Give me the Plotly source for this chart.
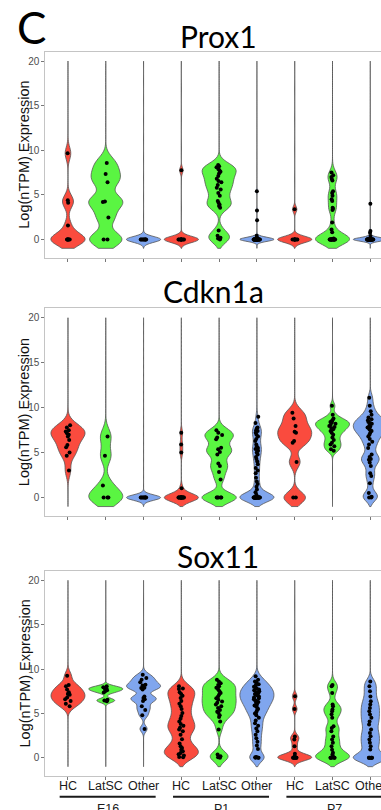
import plotly.graph_objects as go

# ---------------- data ----------------
panel_titles = ["Prox1", "Cdkn1a", "Sox11"]
stages = ["E16", "P1", "P7"]
cell_types = ["HC", "LatSC", "Other"]
positions = [1, 2, 3, 4, 5, 6, 7, 8, 9]
tick_labels = ["HC", "LatSC", "Other", "HC", "LatSC", "Other", "HC", "LatSC", "Other"]
y_ticks = [0, 5, 10, 15, 20]
y_span = [-1, 20]
colors = ["#FA4B3E", "#5AF542", "#80A6EE"]

# Prox1
prox1_e16_hc = [9.65, 4.4, 4.1, 1.55, 0, 0, 0, 0, 0, 0]
prox1_e16_latsc = [8.58, 7.34, 6.4, 4.25, 4.2, 2.47, 0, 0]
prox1_e16_other = [0, 0, 0, 0, 0, 0, 0, 0]
prox1_p1_hc = [7.75, 0, 0, 0, 0, 0, 0, 0, 0, 0, 0]
prox1_p1_latsc = [8.35, 8.2, 8.1, 7.9, 7.75, 7.6, 7.4, 7.1, 6.8, 6.55, 6.4, 6.1, 5.8,
                  5.6, 5.2, 4.9, 4.3, 4.1, 3.9, 3.75, 3.55, 1.0, 0.4, 0.2, 0.1, 0]
prox1_p1_other = [5.4, 3.25, 2.15, 0.4, 0.2, 0, 0, 0, 0, 0, 0, 0, 0, 0, 0, 0, 0, 0, 0,
                  0, 0, 0, 0, 0, 0, 0, 0, 0, 0, 0, 0, 0, 0, 0, 0]
prox1_p7_hc = [3.37, 0, 0, 0, 0, 0, 0, 0, 0]
prox1_p7_latsc = [7.5, 7.2, 7.0, 6.8, 6.6, 5.4, 5.2, 4.9, 4.5, 4.3, 3.55, 3.45, 3.3,
                  1.9, 1.1, 0.8, 0.1, 0, 0, 0, 0, 0, 0, 0, 0, 0, 0, 0, 0, 0, 0, 0]
prox1_p7_other = [4.0, 0.94, 0.75, 0.37, 0, 0, 0, 0, 0, 0, 0, 0, 0, 0, 0, 0, 0, 0, 0,
                  0, 0, 0, 0, 0, 0, 0, 0, 0, 0, 0, 0, 0, 0, 0]
prox1_bw = [0.7, 0.8, 0.32, 0.35, 0.6, 0.22, 0.35, 0.6, 0.2]

# Cdkn1a
cdkn1a_e16_hc = [8.05, 7.8, 7.5, 7.35, 7.15, 7.0, 6.8, 6.4, 5.85, 5.6, 5.0, 4.65, 3.0]
cdkn1a_e16_latsc = [6.8, 4.65, 1.35, 0, 0, 0]
cdkn1a_e16_other = [0, 0, 0, 0, 0, 0, 0, 0]
cdkn1a_p1_hc = [7.2, 5.9, 5.0, 1.05, 0, 0, 0, 0, 0, 0, 0, 0, 0, 0, 0, 0, 0, 0, 0]
cdkn1a_p1_latsc = [7.5, 7.2, 6.96, 6.67, 6.48, 5.55, 5.37, 5.07, 4.8, 3.78, 3.5, 2.85,
                   2.0, 0, 0, 0, 0, 0]
cdkn1a_p1_other = [9.0, 8.3, 7.8, 7.7, 7.5, 7.4, 7.2, 7.0, 6.8, 6.5, 6.3, 5.9, 5.7, 5.5,
                   5.4, 5.2, 5.0, 4.8, 4.5, 4.3, 4.0, 3.7, 3.3, 3.0, 2.7, 2.2, 1.8, 1.5,
                   1.2, 0.9, 0.6, 0.3, 0, 0, 0, 0, 0, 0, 0, 0, 0, 0, 0, 0, 0, 0, 0, 0,
                   0, 0, 0, 0, 0, 0]
cdkn1a_p7_hc = [9.44, 8.8, 7.96, 7.33, 7.2, 6.3, 6.1, 3.96, 0, 0]
cdkn1a_p7_latsc = [10.2, 9.2, 8.8, 8.6, 8.5, 8.4, 8.33, 8.2, 8.07, 7.95, 7.85, 7.7, 7.6,
                   7.4, 7.2, 7.0, 6.67, 6.4, 6.1, 5.9, 5.7, 5.37, 5.2]
cdkn1a_p7_other = [11.1, 10.2, 9.6, 9.2, 8.9, 8.7, 8.6, 8.4, 8.3, 8.2, 8.0, 7.9, 7.8,
                   7.6, 7.5, 7.4, 7.2, 7.0, 6.8, 6.5, 6.2, 5.9, 5.5, 4.8, 4.5, 4.3,
                   4.2, 3.9, 3.5, 2.7, 2.4, 1.6, 0.5, 0.1, 0, 0]
cdkn1a_bw = [0.7, 0.85, 0.3, 0.45, 0.55, 0.5, 0.65, 0.35, 0.5]

# Sox11
sox11_e16_hc = [9.25, 8.2, 8.05, 7.7, 7.4, 7.2, 7.1, 6.8, 6.6, 6.4, 6.1, 5.8]
sox11_e16_latsc = [8.05, 7.95, 7.85, 7.8, 7.7, 7.6, 7.5, 7.35, 6.55, 6.45, 6.37]
sox11_e16_other = [9.36, 9.0, 8.8, 8.5, 8.24, 8.16, 7.9, 7.87, 7.7, 6.9, 6.74, 6.6,
                   6.4, 5.8, 5.4, 4.8, 3.26]
sox11_p1_hc = [8.05, 7.8, 7.75, 7.4, 7.2, 7.0, 6.74, 6.4, 6.1, 5.8, 5.5, 5.05, 4.7,
               4.4, 4.1, 3.8, 3.6, 3.4, 3.2, 3.0, 2.6, 2.1, 1.6, 1.3, 1.1, 0.9, 0.75,
               0.55, 0.4, 0.26, 0.1, 0.05]
sox11_p1_latsc = [8.8, 8.6, 8.4, 8.2, 8.05, 7.9, 7.7, 7.5, 7.3, 7.1, 6.9, 6.7, 6.55,
                  6.35, 6.2, 6.0, 5.8, 5.6, 5.4, 5.2, 5.05, 4.8, 4.6, 4.1, 3.2, 0.37,
                  0.18, 0.05, 0]
sox11_p1_other = [9.2, 8.8, 8.6, 8.5, 8.3, 8.2, 8.0, 7.9, 7.8, 7.7, 7.6, 7.5, 7.4, 7.3,
                  7.2, 7.1, 7.0, 6.9, 6.8, 6.7, 6.6, 6.5, 6.4, 6.3, 6.2, 6.0, 5.9, 5.8,
                  5.6, 5.5, 5.3, 5.1, 5.0, 4.8, 4.5, 4.2, 3.9, 3.6, 3.3, 3.0, 2.6, 2.2,
                  1.8, 1.4, 1.0, 0.1, 0.05, 0, 0, 0]
sox11_p7_hc = [6.93, 5.5, 2.4, 2.05, 1.3, 0.45, 0.2, 0, 0, 0, 0, 0, 0]
sox11_p7_latsc = [8.2, 8.05, 7.3, 6.0, 5.8, 5.45, 5.25, 4.9, 4.5, 3.55, 3.37, 3.0, 2.4,
                  2.05, 1.7, 1.3, 0.9, 0.56, 0.37, 0.1, 0, 0, 0, 0, 0]
sox11_p7_other = [8.6, 8.05, 7.5, 6.9, 6.37, 6.0, 5.6, 5.25, 4.87, 4.5, 4.1, 3.75, 3.2,
                  2.8, 2.43, 2.06, 1.7, 1.3, 0.94, 0, 0, 0, 0, 0, 0]
sox11_bw = [0.5, 0.22, 0.35, 0.6, 0.55, 0.5, 0.35, 0.5, 0.5]

panels = [
    ([prox1_e16_hc, prox1_e16_latsc, prox1_e16_other, prox1_p1_hc, prox1_p1_latsc,
      prox1_p1_other, prox1_p7_hc, prox1_p7_latsc, prox1_p7_other], prox1_bw),
    ([cdkn1a_e16_hc, cdkn1a_e16_latsc, cdkn1a_e16_other, cdkn1a_p1_hc, cdkn1a_p1_latsc,
      cdkn1a_p1_other, cdkn1a_p7_hc, cdkn1a_p7_latsc, cdkn1a_p7_other], cdkn1a_bw),
    ([sox11_e16_hc, sox11_e16_latsc, sox11_e16_other, sox11_p1_hc, sox11_p1_latsc,
      sox11_p1_other, sox11_p7_hc, sox11_p7_latsc, sox11_p7_other], sox11_bw),
]

# ---------------- layout geometry (pixels) ----------------
W, H = 381, 810
left_px = 45.3
cat_px = 37.79
panel_px = [(51.7, 257.7), (308.3, 516.0), (571.0, 776.0)]
title_px = [(218, 36), (213, 290.5), (218, 556)]


def py(px):
    return 1 - px / H


fig = go.Figure()

for p, (groups, bws) in enumerate(panels):
    xa = "x" if p == 0 else f"x{p + 1}"
    ya = "y" if p == 0 else f"y{p + 1}"
    for i, vals in enumerate(groups):
        fig.add_trace(go.Violin(
            x0=positions[i], y=vals, xaxis=xa, yaxis=ya,
            width=0.9, scalemode="width", spanmode="manual", span=y_span,
            bandwidth=bws[i],
            fillcolor=colors[i % 3], opacity=1,
            line=dict(color="#555555", width=0.8),
            points="all", pointpos=0, jitter=0.2,
            marker=dict(color="black", size=4, line=dict(width=0)),
            showlegend=False, hoverinfo="skip",
        ))

x_range = [0.4, 0.4 + (W - left_px) / cat_px]
axis_line = "#c4c4c4"
layout = dict(
    width=W, height=H, margin=dict(l=0, r=0, t=0, b=0, autoexpand=False),
    paper_bgcolor="white", plot_bgcolor="white",
    violinmode="overlay",
    font=dict(family="Liberation Sans, Arial, sans-serif", color="#222"),
)
for p in range(3):
    sfx = "" if p == 0 else str(p + 1)
    top, bot = panel_px[p]
    layout["xaxis" + sfx] = dict(
        domain=[left_px / W, 1], range=x_range, anchor="y" + sfx, automargin=False,
        showline=True, mirror=True, linecolor=axis_line, linewidth=1,
        showgrid=False, zeroline=False,
        ticks="outside", ticklen=3, tickcolor="#777", tickwidth=1,
        tickvals=positions, showticklabels=False,
    )
    layout["yaxis" + sfx] = dict(
        domain=[py(bot), py(top)], range=[-2.05, 21.05], anchor="x" + sfx, automargin=False,
        showline=True, linecolor=axis_line, linewidth=1,
        showgrid=False, zeroline=False,
        ticks="outside", ticklen=3, tickcolor="#777", tickwidth=1,
        tickvals=y_ticks, tickfont=dict(size=10, color="#4d4d4d"),
    )
fig.update_layout(**layout)

annotations = [dict(text="C", x=15 / W, y=py(27), xref="paper", yref="paper",
                    xanchor="left", yanchor="middle", showarrow=False,
                    font=dict(family="Lato, Noto Sans, sans-serif", size=44, color="black"))]
for p in range(3):
    tx, ty = title_px[p]
    annotations.append(dict(text=panel_titles[p], x=tx / W, y=py(ty), xref="paper", yref="paper",
                            xanchor="center", yanchor="middle", showarrow=False,
                            font=dict(family="Lato, Noto Sans, sans-serif", size=30, color="black")))
    top, bot = panel_px[p]
    annotations.append(dict(text="Log(nTPM) Expression", x=24 / W, y=py((top + bot) / 2),
                            xref="paper", yref="paper", xanchor="center", yanchor="middle",
                            textangle=-90, showarrow=False,
                            font=dict(size=14.5, color="#111")))

# category labels under the bottom panel
for i, lab in enumerate(tick_labels):
    annotations.append(dict(text=lab, x=positions[i], y=py(785.5), xref="x3", yref="paper",
                            xanchor="center", yanchor="middle", showarrow=False,
                            font=dict(size=12.5, color="#1a1a1a")))

shapes = []
for g, stage in enumerate(stages):
    first = positions[3 * g]
    last = positions[3 * g + 2]
    x0, x1 = first - 0.22, last + 0.32
    shapes.append(dict(type="line", xref="x3", yref="paper", x0=x0, x1=x1,
                       y0=py(796.7), y1=py(796.7), line=dict(color="#1a1a1a", width=2)))
    annotations.append(dict(text=stage, x=(x0 + x1) / 2, y=py(800), xref="x3", yref="paper",
                            xanchor="center", yanchor="top", showarrow=False,
                            font=dict(size=12.5, color="#1a1a1a")))

fig.update_layout(annotations=annotations, shapes=shapes)
fig.write_html("out.html", config={"displayModeBar": False},
               post_script="document.body.style.margin='0';document.body.style.overflow='hidden';")
